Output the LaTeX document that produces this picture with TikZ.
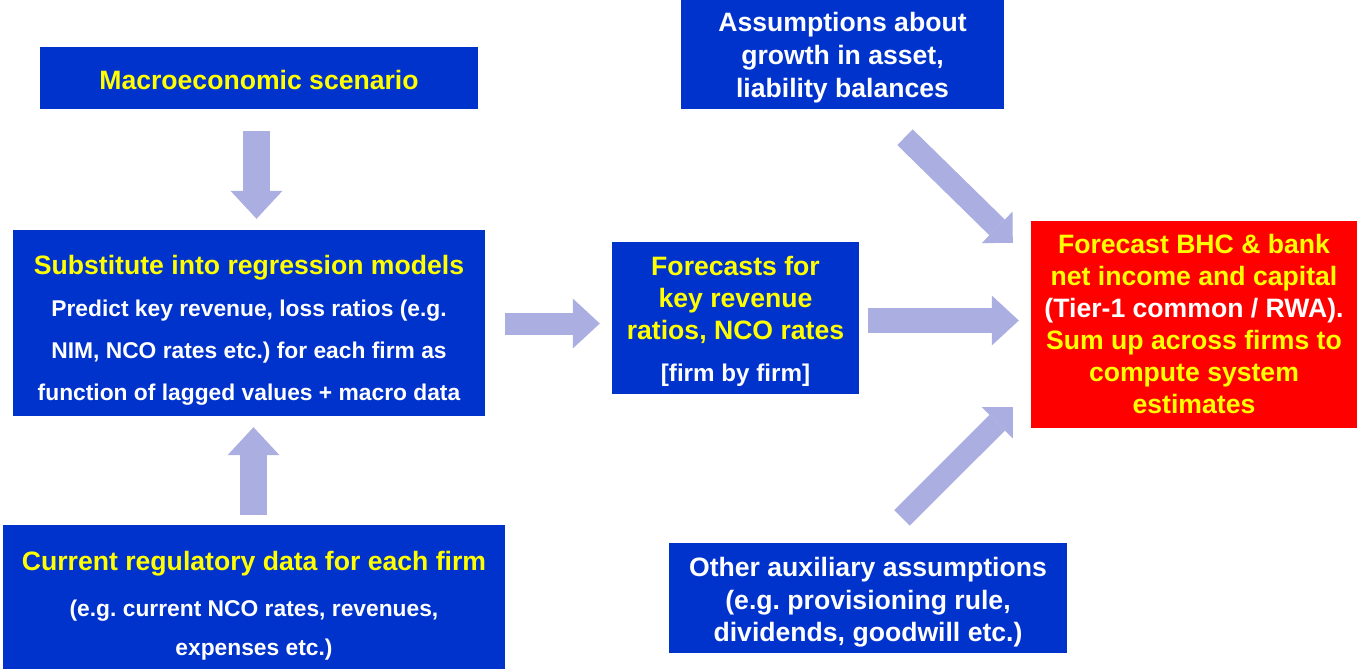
\documentclass[tikz,border=0pt]{standalone}
\usepackage{fontspec}
\setmainfont{Liberation Sans}
\frenchspacing
\usepackage{tikz}
\usetikzlibrary{arrows.meta}
\definecolor{boxblue}{HTML}{0033CC}
\definecolor{boxred}{HTML}{FF0000}
\definecolor{hlyellow}{HTML}{FFFF00}
\definecolor{arrowlilac}{HTML}{ABAEE1}
\newcommand{\hdfont}{\fontsize{26.6}{32}\selectfont}
\newcommand{\subfont}{\fontsize{22.8}{42}\selectfont}
\tikzstyle{block} = [fill=boxblue, rectangle, inner sep=0pt]
\tikzstyle{blocktext} = [inner sep=0pt, align=center, text=white, font=\bfseries\hdfont]
\tikzstyle{fatarrow} = [draw=arrowlilac, line width=25pt,
    -{Triangle[width=50pt,length=27pt,line width=0pt]}]

\begin{document}
\begin{tikzpicture}[x=1pt,y=-1pt]
\useasboundingbox (0,0) rectangle (1357,669);

            % Blocks
            \node (macro) [block, minimum width=438pt, minimum height=62pt] at (259,78) {};
            \node (subst) [block, minimum width=472pt, minimum height=186pt] at (249,323) {};
            \node (current) [block, minimum width=502pt, minimum height=144pt] at (254,597) {};
            \node (fcst) [block, minimum width=247pt, minimum height=152pt] at (735.5,318) {};
            \node (assume) [block, minimum width=323pt, minimum height=109pt] at (842.5,54.5) {};
            \node (bhc) [block, fill=boxred, minimum width=326pt, minimum height=207pt] at (1194,324.5) {};
            \node (other) [block, minimum width=398pt, minimum height=110pt] at (868,598) {};

            % Texts
            \node (macro-txt) [blocktext, text=hlyellow] at ([yshift=-2pt]macro.center)
                {Macroeconomic scenario};
            \node (subst-txt) [blocktext, font=\bfseries\subfont] at ([yshift=-7pt]subst.center)
                {{\hdfont\color{hlyellow}Substitute into regression models}\\
                 Predict key revenue, loss ratios (e.g.\\
                 NIM, NCO rates etc.) for each firm as\\
                 function of lagged values + macro data};
            \node (current-txt) [blocktext, font=\bfseries\subfont] at ([yshift=-8.5pt]current.center)
                {{\hdfont\color{hlyellow}Current regulatory data for each firm}\\[4pt]
                 (e.g. current NCO rates, revenues,\\[-3pt]
                 expenses etc.)};
            \node (fcst-txt) [blocktext, text=hlyellow] at ([yshift=-3.5pt]fcst.center)
                {Forecasts for\\
                 key revenue\\
                 ratios, NCO rates\\[10pt]
                 {\fontsize{24.2}{32}\selectfont\color{white}[firm by firm]}};
            \node (assume-txt) [blocktext, font=\bfseries\fontsize{26.6}{33}\selectfont] at ([yshift=-3pt]assume.center)
                {Assumptions about\\growth in asset,\\liability balances};
            \node (bhc-txt) [blocktext, text=hlyellow] at ([yshift=1pt]bhc.center)
                {Forecast BHC \& bank\\
                 net income and capital\\
                 {\color{white}(Tier-1 common / RWA).}\\
                 Sum up across firms to\\
                 compute system\\
                 estimates};
            \node (other-txt) [blocktext, font=\bfseries\fontsize{26.6}{32.5}\selectfont] at ([yshift=-4.5pt]other.center)
                {Other auxiliary assumptions\\(e.g. provisioning rule,\\dividends, goodwill etc.)};

            % Arrows
            \draw [fatarrow, line width=27pt, -{Triangle[width=52pt,length=28pt,line width=0pt]}]
                ([xshift=-2.5pt,yshift=-22pt]macro.south) -- ([xshift=7.5pt,yshift=11pt]subst.north);
            \draw [fatarrow, line width=27pt, -{Triangle[width=52pt,length=28pt,line width=0pt]}]
                ([xshift=-0.5pt,yshift=10pt]current.north) -- ([xshift=4.5pt,yshift=-11pt]subst.south);
            \draw [fatarrow, line width=22pt] ([xshift=20pt,yshift=-0.5pt]subst.east) -- ([xshift=-12pt,yshift=-5.5pt]fcst.west);
            \draw [fatarrow] ([xshift=9pt,yshift=-2.5pt]fcst.east) -- ([xshift=-12pt,yshift=4pt]bhc.west);
            \draw [fatarrow, line width=22pt, -{Triangle[width=44pt,length=22pt,line width=0pt]}]
                ([xshift=62.5pt,yshift=-28pt]assume.south) -- ([xshift=-18pt,yshift=-22pt]bhc.north west);
            \draw [fatarrow, line width=22pt, -{Triangle[width=44pt,length=22pt,line width=0pt]}]
                ([xshift=34pt,yshift=25pt]other.north) -- ([xshift=-18pt,yshift=21pt]bhc.south west);

\end{tikzpicture}
\end{document}
